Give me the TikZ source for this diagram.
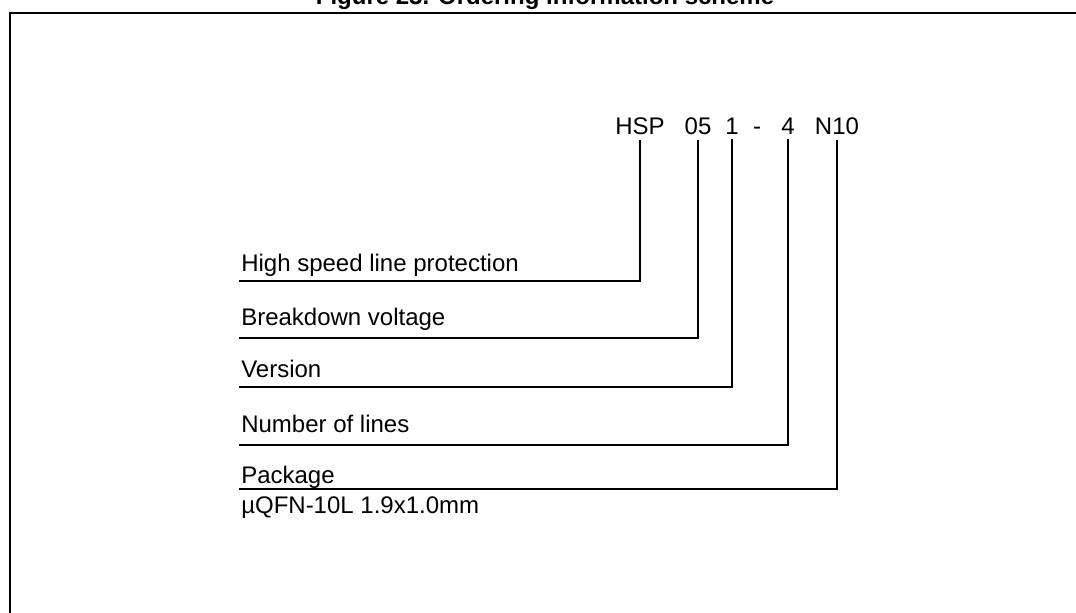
\documentclass[tikz,border=0pt]{standalone}
\usepackage{fontspec}
\setmainfont{Liberation Sans}
\begin{document}
\begin{tikzpicture}[x=0.75pt,y=-0.75pt,
  txt/.style={inner sep=0pt,font=\fontsize{18pt}{21pt}\selectfont},
  code/.style={txt,anchor=base,inner ysep=4.5pt},
  lab/.style={txt,anchor=base west},
  conn/.style={line width=1.3pt,line cap=rect},
  frame/.style={line width=1.5pt}]
\useasboundingbox (0,0) rectangle (1076,612);
\clip (0,0) rectangle (1076,612);
% frame
\draw[frame] (1100,13) -- (10,13) -- (10,640);
% title
\node[txt,anchor=base,font=\fontsize{18pt}{21pt}\selectfont\bfseries] (title) at (545,4) {Figure 23. Ordering information scheme};
% code parts
\node[code] (hsp) at (640,134) {HSP};
\node[code] (v05) at (698,134) {05};
\node[code] (ver) at (732,134) {1};
\node[code] (dash) at (757,134) {-};
\node[code] (num) at (788,134) {4};
\node[code] (pkg) at (837,134) {N10};
% labels
\node[lab] (l1) at (241,271) {High speed line protection};
\node[lab] (l2) at (241,325) {Breakdown voltage};
\node[lab] (l3) at (241,377) {Version};
\node[lab] (l4) at (241,432) {Number of lines};
\node[lab] (l5) at (241,483) {Package};
\node[lab] (l6) at (241,513) {µQFN-10L 1.9x1.0mm};
% connector start points
\coordinate (c1) at (240,281);
\coordinate (c2) at (240,338);
\coordinate (c3) at (240,387);
\coordinate (c4) at (240,445);
\coordinate (c5) at (240,489);
\draw[conn] (c1) -| (hsp.south);
\draw[conn] (c2) -| (v05.south);
\draw[conn] (c3) -| (ver.south);
\draw[conn] (c4) -| (num.south);
\draw[conn] (c5) -| (pkg.south);
\end{tikzpicture}
\end{document}
